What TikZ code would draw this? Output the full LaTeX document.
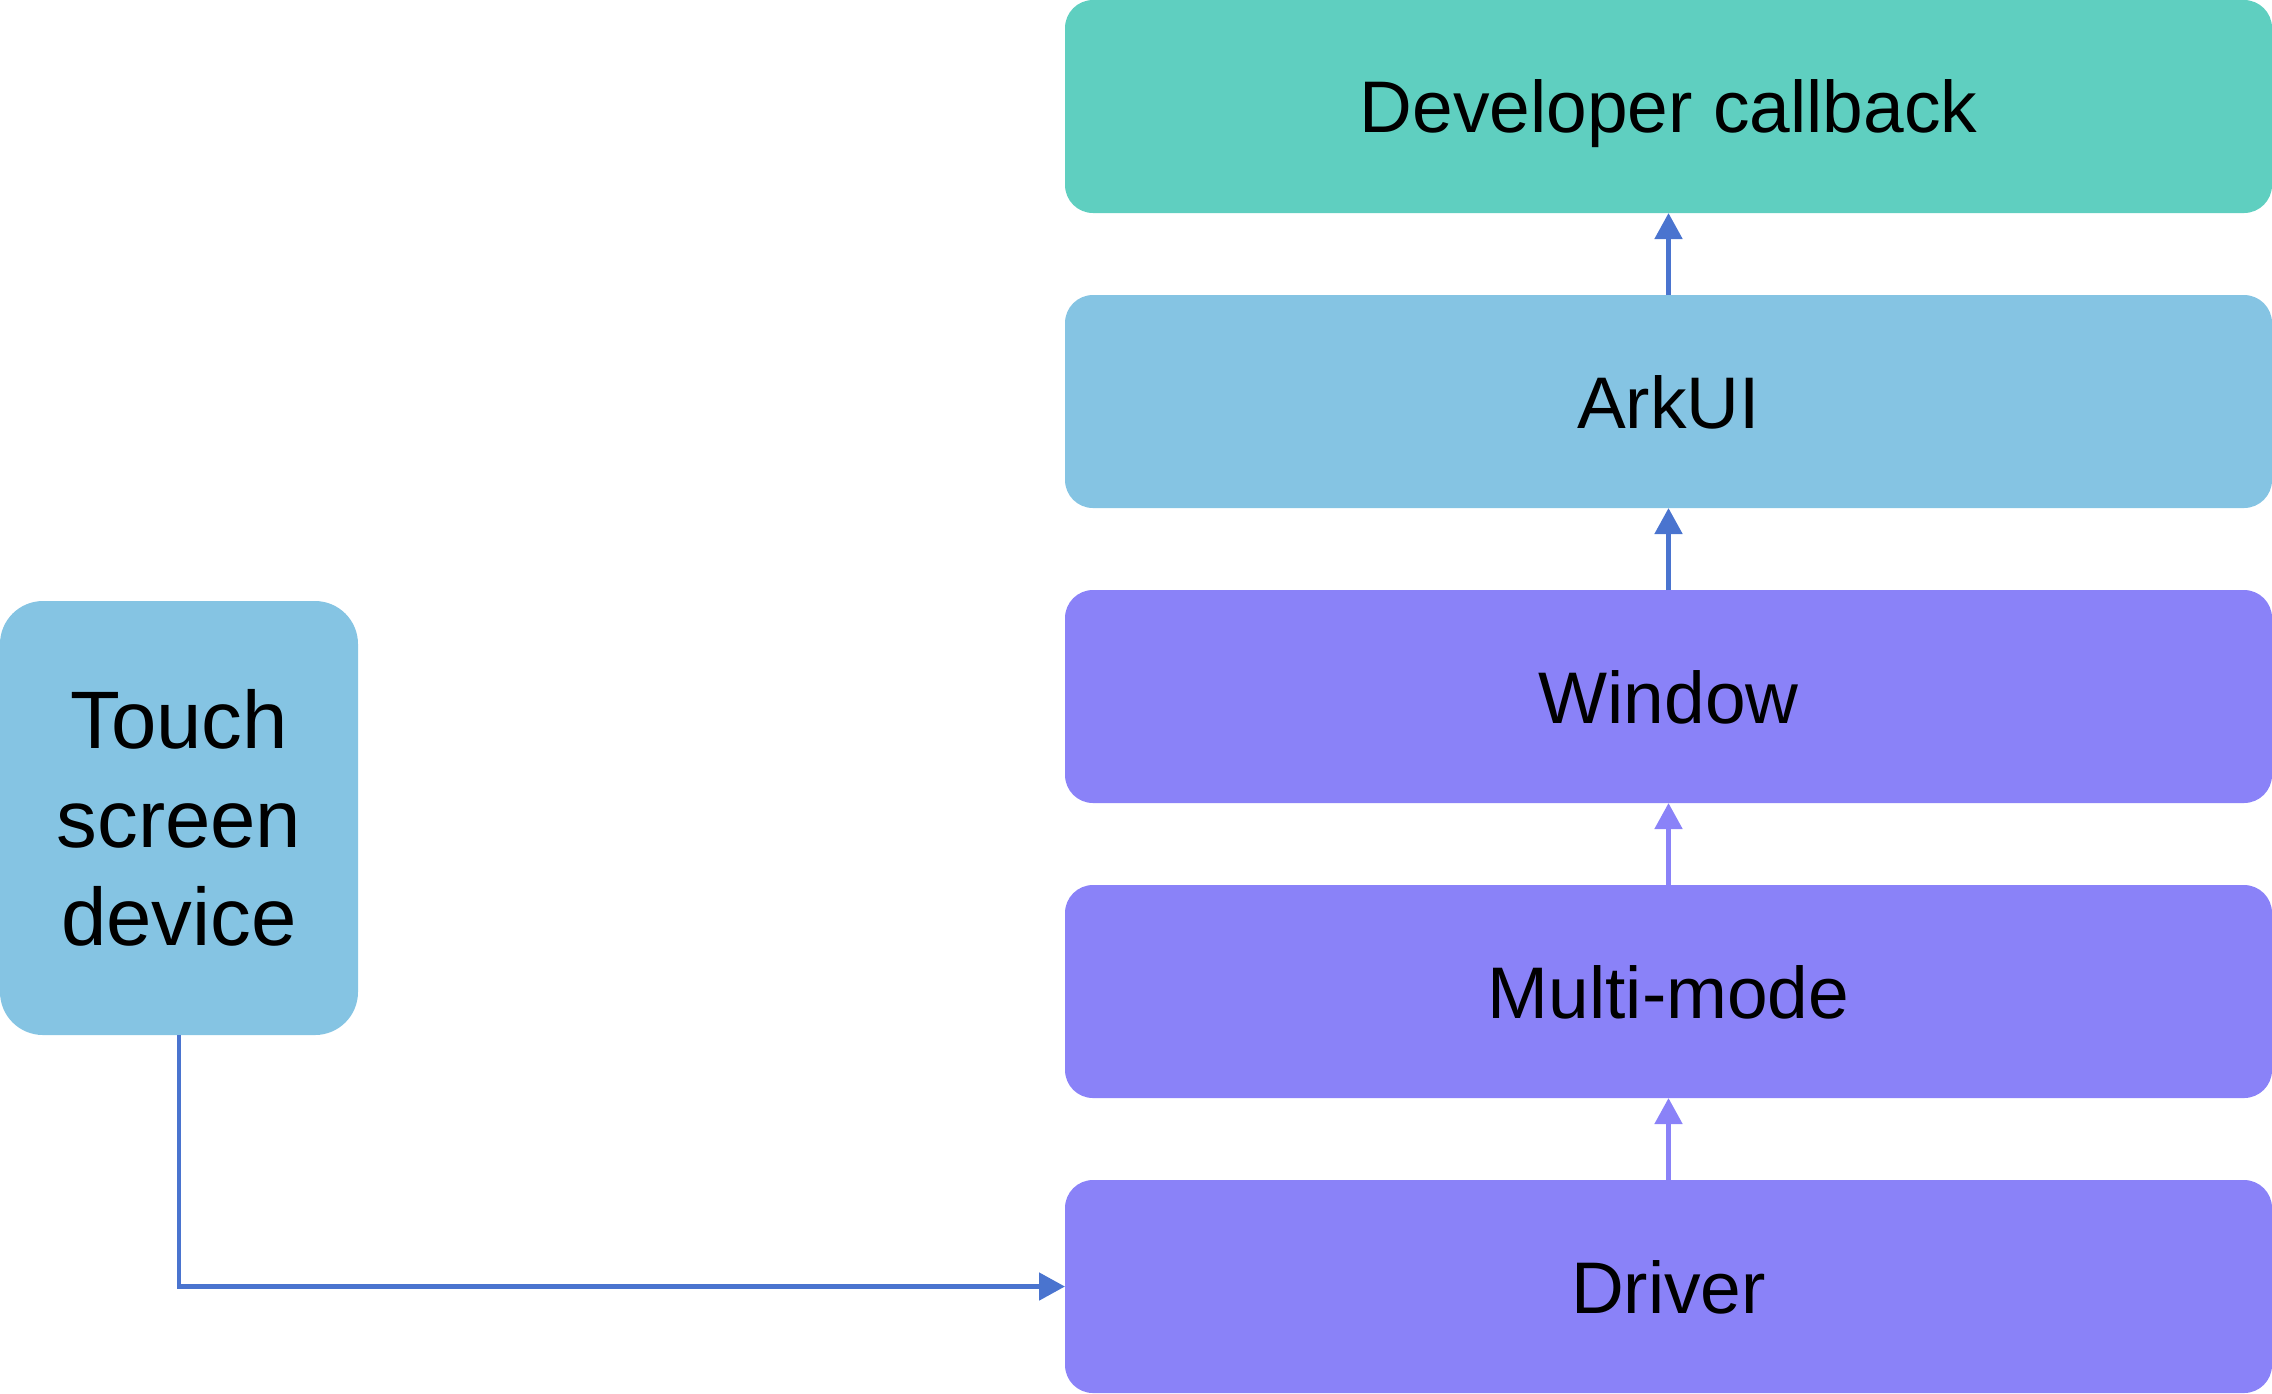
\documentclass[tikz,border=0pt]{standalone}
\usepackage{fontspec}
\setmainfont{Liberation Sans}
\usetikzlibrary{arrows.meta,positioning}

\definecolor{devgreen}{HTML}{5FCFC0}
\definecolor{arkblue}{HTML}{85C4E3}
\definecolor{layerpurple}{HTML}{8A82F8}
\definecolor{linkblue}{HTML}{4A74CF}

\tikzset{
  layer/.style={rounded corners=0.28cm, minimum width=12.07cm, minimum height=2.13cm,
    inner sep=0pt, outer sep=0pt, text depth=0pt, font=\fontsize{20.8}{25}\selectfont},
  link/.style={line width=1.4pt, -{Triangle[width=0.27cm,length=0.26cm]}}
}

\begin{document}
\begin{tikzpicture}[node distance=0.82cm]
  \useasboundingbox (0,0) rectangle (22.72,-13.93);
  \node [layer, fill=layerpurple, anchor=south east] (driver) at (22.72,-13.93) {Driver};
  \node [layer, fill=layerpurple, above=of driver] (multi) {Multi-mode};
  \node [layer, fill=layerpurple, above=of multi] (window) {Window};
  \node [layer, fill=arkblue, above=of window] (arkui) {ArkUI};
  \node [layer, fill=devgreen, above=of arkui] (dev) {Developer callback};
  \node [rounded corners=0.43cm, fill=arkblue, minimum width=3.58cm, minimum height=4.34cm,
    inner sep=0pt, outer sep=0pt, align=center, font=\fontsize{23.2}{28}\selectfont,
    anchor=north west] (touch) at (0,-6.01) {Touch\\screen\\device};
  \draw [link, layerpurple] (driver) -- (multi);
  \draw [link, layerpurple] (multi) -- (window);
  \draw [link, linkblue] (window) -- (arkui);
  \draw [link, linkblue] (arkui) -- (dev);
  \draw [link, linkblue] (touch.south) |- (driver.west);
\end{tikzpicture}
\end{document}
